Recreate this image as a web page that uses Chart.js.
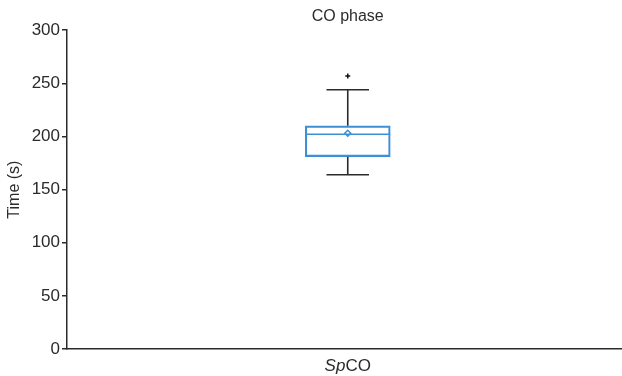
<!DOCTYPE html>
<html>
<head>
<meta charset="utf-8">
<script src="https://cdn.jsdelivr.net/npm/chart.js@4"></script>
<style>
  html, body { margin: 0; padding: 0; background: #fff; overflow: hidden; }
  #wrap { width: 634px; height: 376px; }
</style>
</head>
<body>
<div id="wrap"><canvas id="boxChart"></canvas></div>
<script>
// box plot data
const categories = ['SpCO'];
const q1 = [181];
const q3 = [210];
const median = [202];
const mean = [203];
const whiskerLow = [164];
const whiskerHigh = [244];
const outliers = [257];
const yTicks = [0, 50, 100, 150, 200, 250, 300];

const axisColor = '#2b2b2b';
const boxColor = '#3d8fd6';
const fontFamily = 'Arial, "Liberation Sans", sans-serif';

// whiskers, caps and median line, placed through the chart scales
const boxExtras = {
    id: 'boxExtras',
    afterDatasetsDraw(chart) {
        const ctx = chart.ctx;
        const x = chart.scales.x;
        const y = chart.scales.y;
        const bar = chart.getDatasetMeta(0).data;
        categories.forEach((c, i) => {
            const cx = x.getPixelForValue(i);
            const half = bar[i].width / 2;
            const cap = half * 0.5;
            ctx.save();
            ctx.strokeStyle = axisColor;
            ctx.lineWidth = 1.6;
            ctx.beginPath();
            ctx.moveTo(cx, y.getPixelForValue(q3[i]));
            ctx.lineTo(cx, y.getPixelForValue(whiskerHigh[i]));
            ctx.moveTo(cx - cap, y.getPixelForValue(whiskerHigh[i]));
            ctx.lineTo(cx + cap, y.getPixelForValue(whiskerHigh[i]));
            ctx.moveTo(cx, y.getPixelForValue(q1[i]));
            ctx.lineTo(cx, y.getPixelForValue(whiskerLow[i]));
            ctx.moveTo(cx - cap, y.getPixelForValue(whiskerLow[i]));
            ctx.lineTo(cx + cap, y.getPixelForValue(whiskerLow[i]));
            ctx.stroke();
            ctx.strokeStyle = boxColor;
            ctx.lineWidth = 1.5;
            ctx.beginPath();
            ctx.moveTo(cx - half, y.getPixelForValue(median[i]));
            ctx.lineTo(cx + half, y.getPixelForValue(median[i]));
            ctx.stroke();
            ctx.restore();
        });
    },
    afterDraw(chart) {
        // category label with italic "Sp" prefix
        const ctx = chart.ctx;
        const x = chart.scales.x;
        categories.forEach((c, i) => {
            const cx = x.getPixelForValue(i);
            const ty = chart.chartArea.bottom + 17;
            const it = c.slice(0, 2);
            const rest = c.slice(2);
            ctx.save();
            ctx.fillStyle = axisColor;
            ctx.textBaseline = 'middle';
            ctx.font = 'italic 17px ' + fontFamily;
            const w1 = ctx.measureText(it).width;
            ctx.font = '17px ' + fontFamily;
            const w2 = ctx.measureText(rest).width;
            const start = cx - (w1 + w2) / 2;
            ctx.textAlign = 'left';
            ctx.font = 'italic 17px ' + fontFamily;
            ctx.fillText(it, start, ty);
            ctx.font = '17px ' + fontFamily;
            ctx.fillText(rest, start + w1, ty);
            ctx.restore();
        });
    }
};

const ctx = document.getElementById('boxChart').getContext('2d');
new Chart(ctx, {
    type: 'bar',
    data: {
        labels: categories,
        datasets: [
            {
                label: 'IQR',
                data: categories.map((c, i) => [q1[i], q3[i]]),
                backgroundColor: 'rgba(255,255,255,0)',
                borderColor: boxColor,
                borderWidth: 1.5,
                borderSkipped: false,
                barThickness: 85,
                order: 2
            },
            {
                type: 'line',
                label: 'Mean',
                data: mean,
                showLine: false,
                pointStyle: 'rectRot',
                pointRadius: 3,
                borderColor: boxColor,
                backgroundColor: '#fff',
                borderWidth: 1.5,
                order: 1
            },
            {
                type: 'line',
                label: 'Outlier',
                data: outliers,
                showLine: false,
                pointStyle: 'cross',
                pointRadius: 2.5,
                borderColor: '#111',
                borderWidth: 1.5,
                order: 1
            }
        ]
    },
    options: {
        responsive: true,
        maintainAspectRatio: false,
        animation: false,
        plugins: {
            legend: { display: false },
            tooltip: { enabled: false },
            title: {
                display: true,
                text: 'CO phase',
                fullSize: false,
                color: axisColor,
                font: { family: fontFamily, size: 16, weight: 'normal' },
                padding: { top: 7, bottom: 4 }
            }
        },
        scales: {
            x: {
                grid: { display: false },
                border: { display: true, color: axisColor, width: 1.5 },
                ticks: { color: 'rgba(0,0,0,0)', font: { family: fontFamily, size: 15 } },
                afterFit(scale) { scale.height = 27; }
            },
            y: {
                min: 0,
                max: 300,
                afterBuildTicks(scale) { scale.ticks = yTicks.map(v => ({ value: v })); },
                grid: { drawOnChartArea: false, drawTicks: true, tickLength: 5, color: axisColor, lineWidth: 1.5 },
                border: { display: true, color: axisColor, width: 1.5 },
                ticks: { color: axisColor, padding: 2, font: { family: fontFamily, size: 17 } },
                title: {
                    display: true,
                    text: 'Time (s)',
                    color: axisColor,
                    font: { family: fontFamily, size: 16 },
                    padding: { top: 5, bottom: 0 }
                },
                afterFit(scale) { scale.width = 67; }
            }
        }
    },
    plugins: [boxExtras]
});
</script>
</body>
</html>
